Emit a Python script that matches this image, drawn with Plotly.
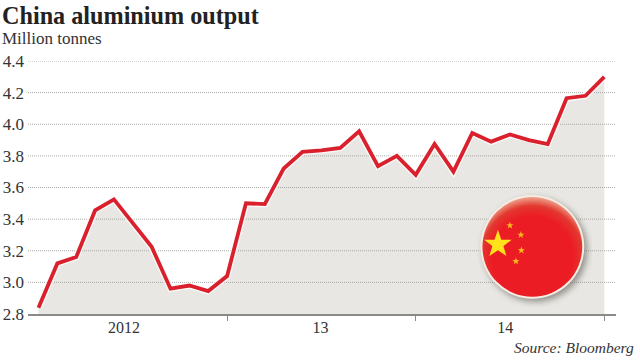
import base64
import math
import plotly.graph_objects as go

W, H = 640, 360
L, R, T, B = 27.5, 23.5, 60.5, 46

period = list(range(31))
output = [2.84, 3.12, 3.16, 3.455, 3.525, 3.375, 3.225, 2.96, 2.98, 2.945, 3.04,
          3.50, 3.495, 3.72, 3.825, 3.835, 3.85, 3.955, 3.735, 3.80, 3.68,
          3.875, 3.70, 3.945, 3.89, 3.935, 3.90, 3.875, 4.165, 4.18, 4.30]
y_ticks = [2.8, 3.0, 3.2, 3.4, 3.6, 3.8, 4.0, 4.2, 4.4]
y_labels = ["2.8", "3.0", "3.2", "3.4", "3.6", "3.8", "4.0", "4.2", "4.4"]
year_positions = [4.53, 14.95, 24.75]
year_labels = ["2012", "13", "14"]
year_ends = [10, 20, 30]
x_range = [-0.556, 30.62]

TEXT = "#333333"
SERIF = "Liberation Serif"


def star(cx, cy, r, colour):
    pts = []
    for i in range(10):
        a = -math.pi / 2 + i * math.pi / 5
        rr = r if i % 2 == 0 else r * 0.4
        pts.append(f"{cx + rr * math.cos(a):.2f},{cy + rr * math.sin(a):.2f}")
    return f'<polygon points="{" ".join(pts)}" fill="{colour}"/>'


# decorative flag badge, 120x120 with centre at (60, 60)
svg = f'''<svg xmlns="http://www.w3.org/2000/svg" width="120" height="120" viewBox="0 0 120 120">
<defs>
<radialGradient id="r" cx="50%" cy="60%" r="60%">
<stop offset="0" stop-color="#ec1c24"/><stop offset="0.68" stop-color="#ec1c24"/>
<stop offset="0.85" stop-color="#e2382f"/><stop offset="1" stop-color="#efa58f"/>
</radialGradient>
<filter id="b" x="-30%" y="-30%" width="160%" height="160%"><feGaussianBlur stdDeviation="3"/></filter>
<filter id="s" x="-30%" y="-30%" width="160%" height="160%"><feGaussianBlur stdDeviation="0.5"/></filter>
</defs>
<circle cx="63" cy="63" r="52" fill="#77756f" opacity="0.75" filter="url(#b)"/>
<circle cx="60" cy="60" r="52" fill="#f7ece4"/>
<circle cx="60" cy="60" r="50" fill="url(#r)"/>
<g filter="url(#s)">
{star(25.5, 57.5, 14.5, "#ffe11a")}{star(37.5, 38.5, 3.8, "#fbb81c")}{star(48.5, 48, 3.8, "#fbb81c")}{star(49, 63.5, 3.8, "#fbb81c")}{star(43.5, 74.5, 3.8, "#fbb81c")}
</g></svg>'''
badge = "data:image/svg+xml;base64," + base64.b64encode(svg.encode()).decode()

fig = go.Figure()
fig.add_trace(go.Scatter(x=period, y=output, mode="lines", fill="tozeroy",
                         fillcolor="#e8e7e3", line=dict(width=0), hoverinfo="skip"))
for v in y_ticks[1:]:
    fig.add_trace(go.Scatter(x=x_range, y=[v, v], mode="lines",
                             line=dict(color="#a8a8a4", width=1, dash="1px 1px"),
                             hoverinfo="skip"))
fig.add_trace(go.Scatter(x=period, y=output, mode="lines",
                         line=dict(color="rgba(255,255,255,0.75)", width=6.5), hoverinfo="skip"))
fig.add_trace(go.Scatter(x=period, y=output, mode="lines",
                         line=dict(color="#d9202c", width=3.8), hoverinfo="skip"))


def px(x):
    return (x - L) / (W - L - R)


def py(y):
    return (H - B - y) / (H - T - B)


def note(text, x, y, size, xanchor="left", **font):
    fig.add_annotation(text=text, x=px(x), y=py(y), xref="paper", yref="paper",
                       xanchor=xanchor, yanchor="middle", showarrow=False,
                       font=dict(family=SERIF, size=size, **font))


note("<b>China aluminium output</b>", -1, 15, 24.2, color="#222222")
note("Million tonnes", -1, 38, 17, color=TEXT)
note("<i>Source: Bloomberg</i>", 637, 348, 15.5, xanchor="right", color=TEXT)

fig.add_layout_image(source=badge, xref="paper", yref="paper",
                     x=px(472.7), y=py(186.7), sizex=120 / (W - L - R), sizey=120 / (H - T - B),
                     xanchor="left", yanchor="top", sizing="stretch", layer="above")

fig.update_layout(
    width=W, height=H, autosize=False, showlegend=False,
    paper_bgcolor="white", plot_bgcolor="white",
    margin=dict(l=L, r=R, t=T, b=B, autoexpand=False),
    xaxis=dict(range=x_range, tickmode="array", tickvals=year_positions, ticktext=year_labels,
               ticks="", showgrid=False, zeroline=False, showline=True, linecolor="#8a8a88",
               linewidth=2, ticklabelstandoff=-2, tickfont=dict(family=SERIF, size=16, color=TEXT),
               minor=dict(tickmode="array", tickvals=year_ends, ticks="outside", ticklen=5,
                          tickcolor="#8a8a88", tickwidth=1, showgrid=False)),
    yaxis=dict(range=[2.8, 4.4], tickmode="array", tickvals=y_ticks, ticktext=y_labels,
               ticks="", showgrid=False, zeroline=False, showline=False, ticklabelstandoff=3,
               tickfont=dict(family=SERIF, size=17, color=TEXT)),
)
fig.write_html("out.html", config=dict(displayModeBar=False),
               post_script="document.body.style.margin='0';document.body.style.overflow='hidden';")
